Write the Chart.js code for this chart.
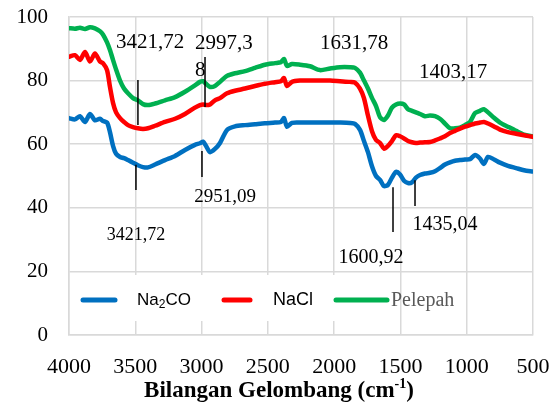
<!DOCTYPE html>
<html>
<head>
<meta charset="utf-8">
<script src="https://cdn.jsdelivr.net/npm/chart.js@4/dist/chart.umd.min.js"></script>
<style>
  html, body { margin: 0; padding: 0; background: #fff; }
  #wrap { width: 559px; height: 409px; }
</style>
</head>
<body>
<div id="wrap"><canvas id="grafikFTIR" width="559" height="409"></canvas></div>
<script>
// bilangan gelombang (cm-1)
const bilanganGelombang = [
  4000, 3955, 3917, 3879, 3842, 3804, 3766, 3744, 3713, 3691, 3668, 3645, 3615, 3585, 3555,
  3517, 3480, 3442, 3404, 3351, 3276, 3200, 3125, 3050, 3012, 2989, 2967, 2936, 2899, 2861,
  2808, 2748, 2672, 2597, 2522, 2446, 2401, 2378, 2356, 2318, 2258, 2182, 2107, 2031, 1956,
  1880, 1843, 1805, 1775, 1745, 1714, 1684, 1654, 1624, 1594, 1564, 1533, 1503, 1473, 1443,
  1413, 1383, 1352, 1315, 1277, 1239, 1202, 1164, 1126, 1088, 1051, 1013, 975, 937, 900,
  870, 839, 794, 749, 689, 628, 568, 500
];

const na2co = [
  68.2, 67.8, 68.8, 67.0, 69.5, 67.5, 68.0, 67.3, 66.8, 63.8, 59.5, 57.0, 56.0, 55.6, 55.0,
  54.2, 53.4, 52.8, 52.7, 53.6, 55.0, 56.3, 58.2, 59.8, 60.3, 60.8, 59.5, 57.5, 58.5, 60.4,
  64.5, 65.6, 66.0, 66.3, 66.6, 66.8, 67.0, 68.2, 65.5, 66.7, 66.8, 66.8, 66.8, 66.8, 66.8,
  66.7, 66.4, 64.5, 61.0, 57.5, 53.0, 50.0, 48.8, 46.8, 47.2, 49.5, 51.3, 50.5, 48.5, 47.8,
  48.0, 49.5, 50.3, 50.8, 51.0, 51.5, 52.5, 53.6, 54.3, 54.8, 55.0, 55.2, 55.3, 56.6, 55.5,
  53.8, 56.0, 55.2, 54.2, 53.2, 52.5, 51.8, 51.4
];

const nacl = [
  87.5, 88.0, 86.5, 89.0, 86.0, 88.5, 86.0, 85.5, 83.3, 78.0, 73.0, 70.0, 68.2, 67.0, 66.0,
  65.4, 65.0, 64.8, 65.0, 65.8, 67.0, 68.0, 69.5, 71.5, 72.3, 72.5, 72.3, 72.5, 73.8, 74.5,
  76.0, 76.8, 77.5, 78.3, 79.0, 79.5, 79.8, 80.8, 78.3, 79.6, 80.0, 80.0, 80.0, 80.0, 79.8,
  79.6, 79.4, 77.5, 74.5, 69.0, 64.0, 61.3, 60.4, 58.6, 59.5, 61.0, 62.8, 62.5, 61.8, 61.0,
  60.6, 60.4, 60.5, 60.6, 60.7, 61.2, 61.8, 62.5, 63.5, 64.2, 64.9, 65.5, 66.0, 66.5, 66.8,
  67.0, 66.5, 65.6, 64.6, 63.8, 63.3, 62.8, 62.3
];

const pelepah = [
  96.5, 96.3, 96.6, 96.2, 96.8, 96.4, 95.5, 94.5, 92.0, 89.6, 86.5, 83.5, 80.0, 77.5, 76.0,
  74.5, 73.8, 72.6, 72.3, 72.8, 73.8, 74.8, 76.5, 78.5, 79.6, 79.8, 79.0, 78.0, 78.3, 79.6,
  81.5, 82.3, 83.0, 84.0, 85.0, 85.5, 85.8, 86.8, 84.6, 85.2, 85.0, 84.5, 83.3, 83.8, 84.2,
  84.2, 84.0, 82.5, 80.0, 77.5, 74.5, 72.0, 68.5, 67.6, 69.0, 71.5, 72.5, 72.8, 72.5, 71.0,
  70.5, 70.0, 69.5, 68.8, 69.0, 68.8, 68.0, 66.5, 65.0, 65.0, 65.2, 66.0, 67.0, 69.8, 70.5,
  71.0, 70.0, 68.3, 66.8, 65.5, 64.2, 63.0, 62.4
];

const tickX = [4000, 3500, 3000, 2500, 2000, 1500, 1000, 500];
const tickY = [0, 20, 40, 60, 80, 100];

// label puncak: teks, posisi teks (x, y data), garis penunjuk (x, y1, y2)
const anotasi = [
  { teks: ["3421,72"], x: 3389, y: 92.1, align: "center", besar: 21, garis: [3480, 80.2, 66.0] },
  { teks: ["2997,3", "8"], x: 3050, y: 91.8, align: "left", besar: 21, garis: [2974, 87.4, 71.7] },
  { teks: ["2951,09"], x: 2823, y: 43.4, align: "center", besar: 19, garis: [2997, 57.9, 49.7] },
  { teks: ["3421,72"], x: 3495, y: 31.4, align: "center", besar: 18, garis: [3495, 53.5, 45.6] },
  { teks: ["1631,78"], x: 1850, y: 91.8, align: "center", besar: 21, garis: null },
  { teks: ["1403,17"], x: 1103, y: 82.7, align: "center", besar: 21, garis: null },
  { teks: ["1600,92"], x: 1722, y: 24.2, align: "center", besar: 20, garis: [1556, 46.5, 32.4] },
  { teks: ["1435,04"], x: 1164, y: 34.6, align: "center", besar: 20, garis: [1390, 48.7, 40.6] }
];

const SERIF = "'Liberation Serif', 'Times New Roman', serif";
const SANS = "'Liberation Sans', Arial, sans-serif";

const buatTitik = (ys) => bilanganGelombang.map((x, i) => ({ x: x, y: ys[i] }));

const pluginAnotasi = {
  id: "anotasi",
  afterDatasetsDraw(chart) {
    const ctx = chart.ctx;
    const sx = chart.scales.x, sy = chart.scales.y;
    ctx.save();
    anotasi.forEach(a => {
      if (a.garis) {
        ctx.strokeStyle = "#000";
        ctx.lineWidth = 1.5;
        ctx.beginPath();
        ctx.moveTo(sx.getPixelForValue(a.garis[0]), sy.getPixelForValue(a.garis[1]));
        ctx.lineTo(sx.getPixelForValue(a.garis[0]), sy.getPixelForValue(a.garis[2]));
        ctx.stroke();
      }
      ctx.fillStyle = "#000";
      ctx.font = a.besar + "px " + SERIF;
      ctx.textAlign = a.align;
      ctx.textBaseline = "middle";
      a.teks.forEach((t, i) => {
        ctx.fillText(t, sx.getPixelForValue(a.x), sy.getPixelForValue(a.y) + i * 27);
      });
    });
    ctx.restore();
  }
};

const pluginLegenda = {
  id: "legendaDalam",
  afterDraw(chart) {
    const ctx = chart.ctx;
    ctx.save();
    ctx.fillStyle = "#fff";
    ctx.fillRect(71, 275, 323, 46);

    const yy = 300;
    ctx.lineWidth = 5;
    ctx.lineCap = "round";
    ctx.strokeStyle = "#0070C0";
    ctx.beginPath(); ctx.moveTo(83, yy); ctx.lineTo(115, yy); ctx.stroke();
    ctx.strokeStyle = "#FF0000";
    ctx.beginPath(); ctx.moveTo(224, yy); ctx.lineTo(250, yy); ctx.stroke();
    ctx.strokeStyle = "#00B050";
    ctx.beginPath(); ctx.moveTo(336, yy); ctx.lineTo(387, yy); ctx.stroke();

    ctx.fillStyle = "#000";
    ctx.textBaseline = "middle";
    ctx.textAlign = "left";
    ctx.font = "17px " + SANS;
    let x = 137;
    ctx.fillText("Na", x, yy);
    x += ctx.measureText("Na").width;
    ctx.font = "12px " + SANS;
    ctx.fillText("2", x, yy + 5);
    x += ctx.measureText("2").width;
    ctx.font = "17px " + SANS;
    ctx.fillText("CO", x, yy);
    ctx.font = "18px " + SANS;
    ctx.fillText("NaCl", 273, yy);

    ctx.fillStyle = "#595959";
    ctx.font = "20px " + SERIF;
    ctx.fillText("Pelepah", 391, yy + 1);

    // judul sumbu x dengan pangkat
    ctx.fillStyle = "#000";
    ctx.font = "bold 23px " + SERIF;
    const bagian1 = "Bilangan Gelombang (cm";
    const w1 = ctx.measureText(bagian1).width;
    ctx.font = "bold 14px " + SERIF;
    const w2 = ctx.measureText("-1").width;
    ctx.font = "bold 23px " + SERIF;
    const w3 = ctx.measureText(")").width;
    let tx = 279 - (w1 + w2 + w3) / 2;
    const ty = 391;
    ctx.fillText(bagian1, tx, ty);
    tx += w1;
    ctx.font = "bold 14px " + SERIF;
    ctx.fillText("-1", tx, ty - 7);
    tx += w2;
    ctx.font = "bold 23px " + SERIF;
    ctx.fillText(")", tx, ty);
    ctx.restore();
  }
};

new Chart(document.getElementById("grafikFTIR"), {
  type: "line",
  data: {
    datasets: [
      { label: "Na2CO", data: buatTitik(na2co), borderColor: "#0070C0", borderWidth: 4.5 },
      { label: "NaCl", data: buatTitik(nacl), borderColor: "#FF0000", borderWidth: 4.5 },
      { label: "Pelepah", data: buatTitik(pelepah), borderColor: "#00B050", borderWidth: 4.5 }
    ]
  },
  options: {
    responsive: false,
    animation: false,
    devicePixelRatio: 1,
    layout: { padding: { left: 0, right: 26, top: 17, bottom: 0 } },
    elements: {
      point: { radius: 0 },
      line: { tension: 0.25, borderCapStyle: "round", borderJoinStyle: "round" }
    },
    plugins: {
      legend: { display: false },
      tooltip: { enabled: false }
    },
    scales: {
      x: {
        type: "linear",
        reverse: true,
        min: 500,
        max: 4000,
        afterBuildTicks: s => { s.ticks = tickX.map(v => ({ value: v })); },
        afterFit: s => { s.height = 74; s.paddingLeft = 0; s.paddingRight = 0; },
        grid: { color: "#D9D9D9", lineWidth: 1.5, drawTicks: false },
        border: { color: "#D9D9D9", width: 1.5 },
        ticks: {
          padding: 19,
          color: "#000",
          maxRotation: 0,
          font: { family: SERIF, size: 22 },
          callback: v => v
        }
      },
      y: {
        min: 0,
        max: 100,
        afterBuildTicks: s => { s.ticks = tickY.map(v => ({ value: v })); },
        afterFit: s => { s.width = 69; s.paddingTop = 0; s.paddingBottom = 0; },
        grid: { color: "#D9D9D9", lineWidth: 1.5, drawTicks: false },
        border: { color: "#D9D9D9", width: 1.5 },
        ticks: {
          padding: 21,
          color: "#000",
          font: { family: SERIF, size: 21 }
        }
      }
    }
  },
  plugins: [pluginAnotasi, pluginLegenda]
});
</script>
</body>
</html>
